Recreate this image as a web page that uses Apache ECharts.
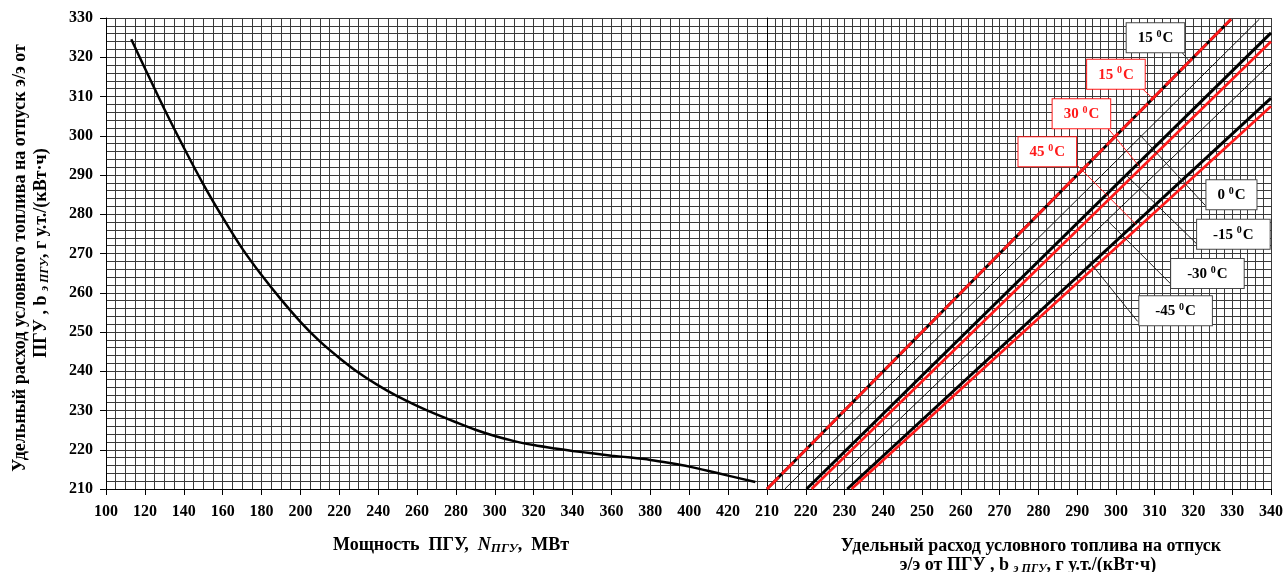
<!DOCTYPE html>
<html><head><meta charset="utf-8">
<script src="https://cdn.jsdelivr.net/npm/echarts@6/dist/echarts.min.js"></script>
<style>html,body{margin:0;padding:0;background:#fff}#c{width:1286px;height:572px}</style>
</head><body><div id="c"></div><script>
// Left panel: power vs specific fuel consumption
const curveX = [113,120,130,140,150,160,170,180,190,200,210,220,230,240,250,260,270,280,290,300,310,320,330,340,350,360,370,380,390,400,410,420,434];
const curveY = [324.6,317.2,306.8,297.0,287.7,279.2,271.3,264.5,258.3,252.6,247.6,243.4,239.6,236.4,233.6,231.2,229.0,227.0,225.1,223.5,222.2,221.2,220.4,219.7,219.1,218.5,218.0,217.4,216.6,215.7,214.6,213.4,211.8];

// Right panel: temperature correction lines
const lineKind = ['dash','thin','thick','red','thin','thick','red'];
const lineX0 = [210, 214.6, 220.2, 221.5, 225.4, 230.7, 231.8];
const lineY0 = [210, 210, 210, 210, 210, 210, 210];
const lineX1 = [329.7, 337, 340, 340, 340, 340, 340];
const lineY1 = [329.7, 329.7, 326.2, 324.0, 318.5, 309.6, 307.5];

// Temperature labels and leaders
const labelText = ['15','15','30','45','0','-15','-30','-45'];
const labelRed = [false,true,true,true,false,false,false,false];
const labelX = [310.2, 300.0, 291.1, 282.3, 329.8, 330.3, 323.6, 315.4];
const labelY = [325.0, 315.7, 305.6, 295.9, 285.0, 274.9, 264.9, 255.4];
const leaderX0 = [316.9, 306.6, 297.6, 290.1, 323.1, 321.3, 314.6, 305.6];
const leaderY0 = [321.4, 312.2, 302.3, 292.4, 282.2, 272.0, 261.8, 252.7];
const leaderX1 = [319.0, 309.4, 306.1, 305.3, 306.1, 302.5, 297.7, 293.2];
const leaderY1 = [318.9, 309.6, 292.1, 277.3, 300.3, 290.1, 278.5, 267.9];

const FF = '"Liberation Serif", "Times New Roman", serif';
const gridColor = '#3a3a3a';
const RED = '#ff1a1a';
const chart = echarts.init(document.getElementById('c'));

const series = [];
series.push({
  type:'line', xAxisIndex:0, yAxisIndex:0, smooth:0.3, symbol:'none',
  lineStyle:{color:'#000', width:2.5}, z:5,
  data: curveX.map((x,i)=>[x, curveY[i]])
});
lineKind.forEach((k,i)=>{
  const d = [[lineX0[i], lineY0[i]],[lineX1[i], lineY1[i]]];
  if (k==='dash') {
    series.push({type:'line', xAxisIndex:1, yAxisIndex:1, symbol:'none', z:5,
      lineStyle:{color:'#000', width:2.8}, data:d});
    series.push({type:'line', xAxisIndex:1, yAxisIndex:1, symbol:'none', z:6,
      lineStyle:{color:RED, width:2.8, type:[17,4]}, data:d});
  } else {
    const st = k==='thin' ? {color:'#111', width:1} : k==='thick' ? {color:'#000', width:3} : {color:RED, width:2.6};
    series.push({type:'line', xAxisIndex:1, yAxisIndex:1, symbol:'none', z:5, lineStyle:st, data:d});
  }
});
labelText.forEach((t,i)=>{
  series.push({type:'line', xAxisIndex:1, yAxisIndex:1, symbol:'none', z:7,
    lineStyle:{color: labelRed[i] ? RED : '#222', width:1},
    data:[[leaderX0[i], leaderY0[i]],[leaderX1[i], leaderY1[i]]]});
});
series.push({
  type:'scatter', xAxisIndex:1, yAxisIndex:1, symbolSize:0, z:10,
  itemStyle:{opacity:1},
  data: labelText.map((t,i)=>({
    value:[labelX[i], labelY[i]], name:t,
    label:{
      show:true, position:'inside', opacity:1,
      formatter: t + ' {s|0}C',
      color: labelRed[i] ? RED : '#000',
      textBorderWidth:0, textBorderColor:'transparent',
      borderColor: labelRed[i] ? RED : '#444',
      borderWidth: 1, backgroundColor:'#fff',
      padding: t.length>2 ? [6,16,5,16] : [6,11,5,11],
      fontFamily: FF, fontWeight:'bold', fontSize:15,
      rich:{s:{fontSize:10, fontFamily:FF, fontWeight:'bold', color: labelRed[i] ? RED : '#000',
        textBorderWidth:0, padding:[0,1,8,0]}}
    }
  }))
});

const axLabel = {color:'#000', fontFamily:FF, fontWeight:'bold', fontSize:16};
const split = {show:true, lineStyle:{color:gridColor, width:1}};

chart.setOption({
  animation:false,
  backgroundColor:'#fff',
  grid:[
    {left:106, top:18, width:661, height:471},
    {left:767, top:18, width:505, height:471}
  ],
  xAxis:[
    {type:'value', gridIndex:0, min:100, max:440, interval:20,
      axisLine:{lineStyle:{color:'#000'}}, axisTick:{length:6, lineStyle:{color:'#000'}},
      axisLabel:Object.assign({margin:15, formatter:v=> v===440 ? '' : String(v)}, axLabel),
      splitLine:split, minorTick:{show:false, splitNumber:4}, minorSplitLine:split},
    {type:'value', gridIndex:1, min:210, max:340, interval:10,
      axisLine:{lineStyle:{color:'#000'}}, axisTick:{length:6, lineStyle:{color:'#000'}},
      axisLabel:Object.assign({margin:15, showMinLabel:true, showMaxLabel:true}, axLabel),
      splitLine:split, minorTick:{show:false, splitNumber:5}, minorSplitLine:split}
  ],
  yAxis:[
    {type:'value', gridIndex:0, min:210, max:330, interval:10,
      axisLine:{show:true, lineStyle:{color:'#000'}}, axisTick:{show:true, length:6, lineStyle:{color:'#000'}},
      axisLabel:Object.assign({margin:13}, axLabel),
      splitLine:split, minorTick:{show:false, splitNumber:5}, minorSplitLine:split},
    {type:'value', gridIndex:1, min:210, max:330, interval:10,
      axisLine:{show:true, lineStyle:{color:'#000'}}, axisTick:{show:false}, axisLabel:{show:false},
      splitLine:split, minorTick:{show:false, splitNumber:5}, minorSplitLine:split}
  ],
  graphic:[
    {type:'text', x:20, y:258, rotation:Math.PI/2, z:20,
      style:{text:'Удельный расход условного топлива на отпуск э/э от', fill:'#000',
        font:'bold 18px '+FF, align:'center', verticalAlign:'middle'}},
    {type:'text', x:41, y:253, rotation:Math.PI/2, z:20,
      style:{text:'ПГУ , b {s|э ПГУ}, г у.т./(кВт·ч)', fill:'#000',
        font:'bold 18px '+FF, align:'center', verticalAlign:'middle',
        rich:{s:{font:'italic bold 12px '+FF, fill:'#000', padding:[7,0,0,0]}}}},
    {type:'text', x:451, y:545, z:20,
      style:{text:'Мощность  ПГУ,  {i|N}{s|ПГУ},  МВт', fill:'#000',
        font:'bold 18px '+FF, align:'center', verticalAlign:'middle',
        rich:{i:{font:'italic bold 18px '+FF, fill:'#000'}, s:{font:'italic bold 13px '+FF, fill:'#000', padding:[7,0,0,0]}}}},
    {type:'text', x:1031, y:546, z:20,
      style:{text:'Удельный расход условного топлива на отпуск', fill:'#000',
        font:'bold 18px '+FF, align:'center', verticalAlign:'middle'}},
    {type:'text', x:1028, y:565, z:20,
      style:{text:'э/э от ПГУ , b {s|э ПГУ}, г у.т./(кВт·ч)', fill:'#000',
        font:'bold 18px '+FF, align:'center', verticalAlign:'middle',
        rich:{s:{font:'italic bold 12px '+FF, fill:'#000', padding:[7,0,0,0]}}}}
  ],
  series: series
});
</script></body></html>
